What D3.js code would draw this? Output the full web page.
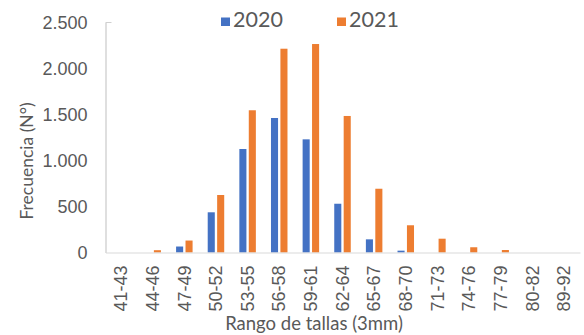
<!DOCTYPE html>
<html>
<head>
<meta charset="utf-8">
<script src="https://cdn.jsdelivr.net/npm/d3@7"></script>
<style>
  body { margin: 0; background: #fff; }
  svg { display: block; font-family: Lato, "Open Sans", sans-serif; }
</style>
</head>
<body>
<svg id="chart" width="584" height="335"></svg>
<script>
const categories = ["41-43", "44-46", "47-49", "50-52", "53-55", "56-58", "59-61", "62-64", "65-67", "68-70", "71-73", "74-76", "77-79", "80-82", "89-92"];
const series2020 = [0, 0, 65, 437, 1125, 1462, 1230, 530, 143, 20, 0, 0, 0, 0, 0];
const series2021 = [0, 25, 130, 625, 1546, 2215, 2266, 1484, 693, 296, 150, 57, 27, 0, 0];
const yTicks = [0, 500, 1000, 1500, 2000, 2500];
const seriesNames = ["2020", "2021"];
const colors = ["#4472C4", "#ED7D31"];

const margin = { top: 22.5, right: 4, bottom: 82.5, left: 105.5 };
const svg = d3.select("#chart");
const width = +svg.attr("width");
const height = +svg.attr("height");
const textColor = "#595959";

const x = d3.scaleBand().domain(categories).range([margin.left, width - margin.right]);
const y = d3.scaleLinear().domain([0, 2500]).range([height - margin.bottom, margin.top]);

// the two series side by side inside each category
const inner = d3.scaleBand().domain(seriesNames).range([-8.5, 8]).paddingInner(0.25);

const rows = categories.map((c, i) => ({ cat: c, vals: [series2020[i], series2021[i]] }));

const groups = svg.append("g").selectAll("g")
  .data(rows)
  .join("g")
  .attr("transform", d => `translate(${x(d.cat) + x.bandwidth() / 2},0)`);

groups.selectAll("rect")
  .data(d => d.vals.map((v, k) => ({ v, k })))
  .join("rect")
  .attr("x", d => inner(seriesNames[d.k]))
  .attr("width", inner.bandwidth())
  .attr("y", d => y(d.v))
  .attr("height", d => y(0) - y(d.v))
  .attr("fill", d => colors[d.k]);

// y axis
const yAxis = svg.append("g")
  .attr("transform", `translate(${margin.left},0)`)
  .call(d3.axisLeft(y).tickValues(yTicks).tickSize(0).tickPadding(18)
    .tickFormat(d => d3.format(",")(d).replace(/,/g, ".")));
yAxis.select(".domain").attr("stroke", "#bfbfbf");
yAxis.selectAll("text").attr("fill", textColor).attr("font-size", 18);
svg.append("line")
  .attr("x1", margin.left).attr("x2", margin.left + 6)
  .attr("y1", y(2500)).attr("y2", y(2500))
  .attr("stroke", "#d0d0d0");

// x axis
const xAxis = svg.append("g")
  .attr("transform", `translate(0,${y(0)})`)
  .call(d3.axisBottom(x).tickSize(0).tickPadding(0));
xAxis.select(".domain").attr("stroke", "#d9d9d9");
xAxis.selectAll("text")
  .attr("fill", textColor)
  .attr("font-size", 18)
  .attr("text-anchor", "end")
  .attr("dy", null)
  .attr("y", 0)
  .attr("transform", "translate(0,13) rotate(-90)")
  .attr("dominant-baseline", "central");

// axis titles
svg.append("text")
  .attr("transform", `translate(26,161) rotate(-90)`)
  .attr("text-anchor", "middle")
  .attr("dominant-baseline", "central")
  .attr("fill", textColor)
  .attr("font-size", 17.5)
  .text("Frecuencia (N°)");

svg.append("text")
  .attr("x", 314)
  .attr("y", 330)
  .attr("text-anchor", "middle")
  .attr("fill", textColor)
  .attr("font-size", 18.5)
  .text("Rango de tallas (3mm)");

// legend
const legend = svg.append("g").selectAll("g")
  .data(seriesNames)
  .join("g")
  .attr("transform", (d, i) => `translate(${[221, 337][i]},0)`);
legend.append("rect")
  .attr("x", 0).attr("y", 17.5)
  .attr("width", 9).attr("height", 8.5)
  .attr("fill", (d, i) => colors[i]);
legend.append("text")
  .attr("x", 12).attr("y", 26.5)
  .attr("fill", textColor)
  .attr("font-size", 21.5)
  .text(d => d);
</script>
</body>
</html>
